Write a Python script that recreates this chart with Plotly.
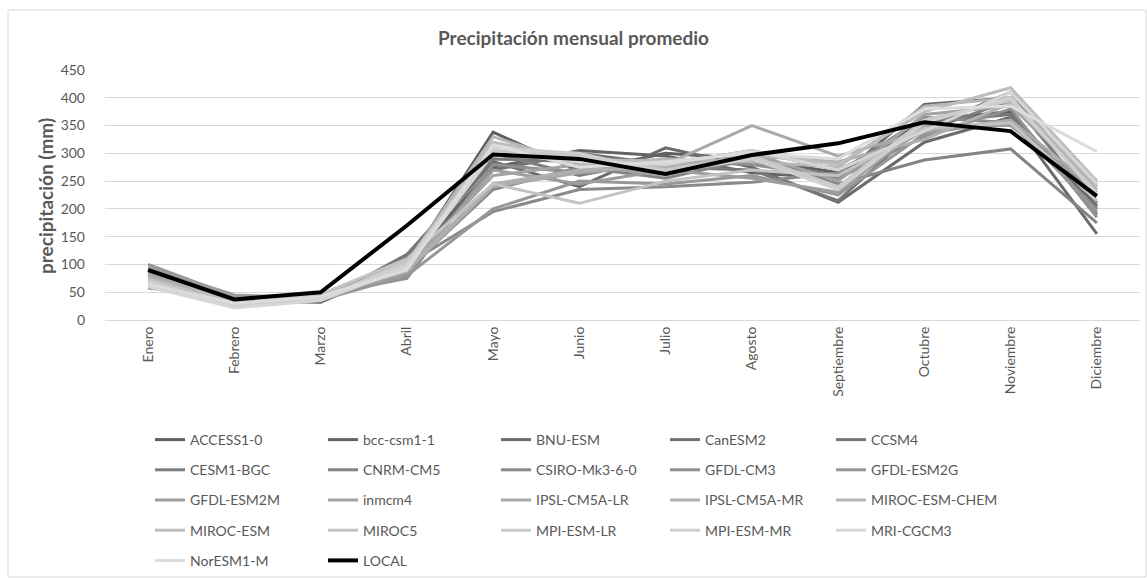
import plotly.graph_objects as go

# Monthly categories
months = ["Enero", "Febrero", "Marzo", "Abril", "Mayo", "Junio", "Julio",
          "Agosto", "Septiembre", "Octubre", "Noviembre", "Diciembre"]

# Mean monthly precipitation (mm) simulated by each climate model
ACCESS1_0 = [62, 34, 32, 100, 338, 268, 300, 290, 265, 360, 375, 200]
bcc_csm1_1 = [58, 38, 35, 105, 275, 305, 295, 265, 255, 388, 400, 205]
BNU_ESM = [70, 40, 36, 112, 285, 240, 310, 275, 212, 320, 365, 155]
CanESM2 = [65, 36, 38, 95, 270, 300, 280, 305, 270, 345, 410, 225]
CCSM4 = [75, 42, 34, 118, 290, 285, 275, 270, 215, 355, 370, 190]
CESM1_BGC = [80, 40, 40, 108, 300, 260, 290, 285, 260, 340, 395, 210]
CNRM_CM5 = [68, 35, 42, 90, 235, 275, 255, 290, 245, 288, 308, 175]
CSIRO_Mk3_6_0 = [85, 44, 38, 100, 195, 235, 240, 248, 265, 365, 355, 200]
GFDL_CM3 = [90, 38, 45, 75, 280, 265, 285, 280, 255, 330, 380, 185]
GFDL_ESM2G = [100, 42, 36, 80, 200, 250, 245, 260, 225, 335, 360, 195]
GFDL_ESM2M = [95, 45, 40, 85, 270, 245, 270, 255, 230, 350, 350, 230]
inmcm4 = [72, 38, 35, 98, 260, 280, 260, 300, 250, 370, 385, 240]
IPSL_CM5A_LR = [82, 30, 40, 88, 240, 265, 280, 350, 295, 340, 360, 235]
IPSL_CM5A_MR = [78, 33, 44, 92, 245, 270, 275, 295, 285, 325, 390, 245]
MIROC_ESM_CHEM = [88, 32, 38, 102, 330, 280, 290, 285, 275, 385, 400, 240]
MIROC_ESM = [92, 28, 42, 95, 320, 290, 285, 300, 280, 375, 418, 250]
MIROC5 = [74, 30, 46, 110, 245, 210, 250, 270, 260, 345, 355, 215]
MPI_ESM_LR = [66, 26, 38, 105, 305, 295, 270, 295, 240, 360, 395, 230]
MPI_ESM_MR = [70, 24, 40, 100, 310, 300, 265, 290, 235, 355, 400, 225]
MRI_CGCM3 = [60, 22, 35, 95, 300, 285, 280, 305, 270, 340, 410, 245]
NorESM1_M = [64, 30, 42, 90, 315, 275, 285, 300, 290, 380, 385, 303]

# Observed local station record
LOCAL = [90, 37, 50, 170, 298, 290, 263, 297, 318, 356, 340, 223]

model_names = ["ACCESS1-0", "bcc-csm1-1", "BNU-ESM", "CanESM2", "CCSM4",
               "CESM1-BGC", "CNRM-CM5", "CSIRO-Mk3-6-0", "GFDL-CM3", "GFDL-ESM2G",
               "GFDL-ESM2M", "inmcm4", "IPSL-CM5A-LR", "IPSL-CM5A-MR", "MIROC-ESM-CHEM",
               "MIROC-ESM", "MIROC5", "MPI-ESM-LR", "MPI-ESM-MR", "MRI-CGCM3",
               "NorESM1-M"]
model_values = [ACCESS1_0, bcc_csm1_1, BNU_ESM, CanESM2, CCSM4,
                CESM1_BGC, CNRM_CM5, CSIRO_Mk3_6_0, GFDL_CM3, GFDL_ESM2G,
                GFDL_ESM2M, inmcm4, IPSL_CM5A_LR, IPSL_CM5A_MR, MIROC_ESM_CHEM,
                MIROC_ESM, MIROC5, MPI_ESM_LR, MPI_ESM_MR, MRI_CGCM3,
                NorESM1_M]

y_ticks = [0, 50, 100, 150, 200, 250, 300, 350, 400, 450]

FONT = "Lato, Carlito, Calibri, sans-serif"
TEXT = "#595959"
W, H = 1147, 578
L, R, T, B = 105, 7, 70, 258
PW, PH = W - L - R, H - T - B

fig = go.Figure()

# Monochrome gray ramp, darkest for the first model
n = len(model_names)
legend_ids = ["legend", "legend2", "legend3", "legend4", "legend5"]
for i, (name, vals) in enumerate(zip(model_names, model_values)):
    g = int(round(94 + (220 - 94) * i / (n - 1)))
    fig.add_trace(go.Scatter(
        x=months, y=vals, name=name, mode="lines",
        line=dict(color=f"rgb({g},{g},{g})", width=3),
        legend=legend_ids[i % 5], legendgroup=name,
    ))

fig.add_trace(go.Scatter(
    x=months, y=LOCAL, name="LOCAL", mode="lines",
    line=dict(color="#000000", width=4),
    legend=legend_ids[n % 5], legendgroup="LOCAL",
))

# Five legend columns laid out as a grid below the plot
col_x = [150, 323, 496, 665, 831]
legend_common = dict(
    xref="container", yref="container", xanchor="left", yanchor="top",
    y=1 - 424 / H, orientation="v", tracegroupgap=9,
    font=dict(family=FONT, size=14, color=TEXT),
    bgcolor="rgba(0,0,0,0)", itemwidth=30,
)
layout_legends = {}
for lid, cx in zip(legend_ids, col_x):
    layout_legends[lid] = dict(legend_common, x=cx / W)

fig.update_layout(
    width=W, height=H,
    margin=dict(l=L, r=R, t=T, b=B, autoexpand=False),
    paper_bgcolor="white", plot_bgcolor="white",
    font=dict(family=FONT, color=TEXT),
    title=dict(text="Precipitación mensual promedio",
               x=0.5, xref="container", xanchor="center",
               y=1 - 38 / H, yref="container", yanchor="middle",
               font=dict(family=FONT, size=19, color=TEXT, weight="bold")),
    showlegend=True,
    **layout_legends,
    xaxis=dict(
        type="category", categoryorder="array", categoryarray=months,
        tickangle=-90, tickfont=dict(family=FONT, size=14, color=TEXT),
        showgrid=False, showline=True, linecolor="#d9d9d9", linewidth=1,
        ticks="", zeroline=False, automargin=False,
        range=[-0.5, len(months) - 0.5],
    ),
    yaxis=dict(
        range=[0, 450], tickvals=y_ticks, ticktext=[str(v) for v in y_ticks],
        tickfont=dict(family=FONT, size=14, color=TEXT),
        showgrid=True, gridcolor="#d9d9d9", gridwidth=1,
        zeroline=False, ticks="", ticklabelstandoff=19, automargin=False,
    ),
    annotations=[dict(
        text="precipitación (mm)", textangle=-90,
        xref="paper", yref="paper", x=(45 - L) / PW, y=(320 - 196) / PH,
        xanchor="center", yanchor="middle", showarrow=False,
        font=dict(family=FONT, size=19, color=TEXT, weight="bold"),
    )],
    shapes=[dict(type="rect", xref="paper", yref="paper",
                 x0=(8 - L) / PW, x1=(1146 - L) / PW,
                 y0=(320 - 577) / PH, y1=(320 - 10) / PH,
                 line=dict(color="#d9d9d9", width=1), layer="below")],
)

fig.write_html("out.html")
